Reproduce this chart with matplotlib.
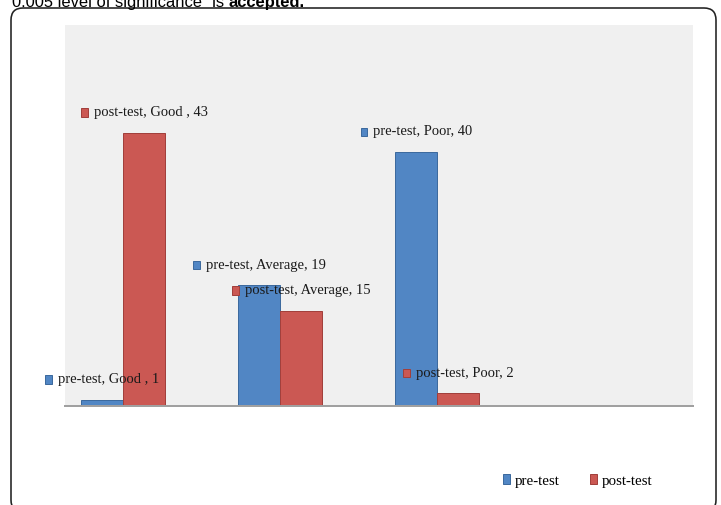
import matplotlib
matplotlib.use("Agg")
import matplotlib.pyplot as plt
from matplotlib.patches import FancyBboxPatch, Rectangle, Patch
from matplotlib.offsetbox import AnnotationBbox, HPacker, DrawingArea, TextArea
import numpy as np

# ---- data ----
categories = ["Good", "Average", "Poor"]
series_names = ["pre-test", "post-test"]
pre_test = [1, 19, 40]
post_test = [43, 15, 2]
label_cats = ["Good ", "Average", "Poor"]  # category text as shown in labels

# ---- style ----
W, H, DPI = 721, 505, 72
colors = ["#5186C4", "#CB5853"]
edges = ["#3D6A9E", "#A2403C"]
serif = ["Liberation Serif", "DejaVu Serif"]
sans = ["Liberation Sans", "DejaVu Sans"]

fig = plt.figure(figsize=(W / DPI, H / DPI), dpi=DPI)
fig.patch.set_facecolor("white")

# background overlay axes in pixel coordinates
bg = fig.add_axes([0, 0, 1, 1], zorder=0)
bg.set_xlim(0, W)
bg.set_ylim(H, 0)
bg.axis("off")
frame = FancyBboxPatch((11, 8), 705, 504, boxstyle="round,pad=0,rounding_size=12",
                       facecolor="white", edgecolor="#222222", linewidth=1.6)
bg.add_patch(frame)

# caption at top (cut off by the page edge as in the source)
t1 = bg.text(12, 6.5, "0.005 level of significance\u201d is ", fontsize=16.5,
             family=sans, va="baseline", ha="left", color="black")
fig.canvas.draw()
r = fig.canvas.get_renderer()
bb = t1.get_window_extent(r)
x_end = bb.x1
bg.text(x_end, 6.5, "accepted.", fontsize=16.5, family=sans, fontweight="bold",
        va="baseline", ha="left", color="black")

# main axes
left, right, top, bottom = 65, 693, 25, 406
ax = fig.add_axes([left / W, 1 - bottom / H, (right - left) / W, (bottom - top) / H], zorder=1)
ax.set_facecolor("#F0F0F0")
x = np.arange(len(categories))
bw = 42 / 157
vals = [pre_test, post_test]
offs = [-bw / 2, bw / 2]
for i in range(2):
    ax.bar(x + offs[i], vals[i], width=bw, color=colors[i], edgecolor=edges[i],
           linewidth=1.0, zorder=2)
ax.set_xlim(-0.37, 3.63)
ax.set_ylim(0, 60)
for s in ["top", "right", "left"]:
    ax.spines[s].set_visible(False)
ax.spines["bottom"].set_color("#A0A0A0")
ax.spines["bottom"].set_linewidth(2)
ax.set_xticks([])
ax.set_yticks([])

# data labels: small square + text, centered above bar
for i in range(2):
    for j in range(len(categories)):
        da = DrawingArea(7, 9, 0, 0)
        da.add_artist(Rectangle((0.5, 0.5), 6.5, 8.5, facecolor=colors[i], edgecolor=edges[i], linewidth=1))
        ta = TextArea(f"{series_names[i]}, {label_cats[j]}, {vals[i][j]}",
                      textprops=dict(fontsize=14.5, family=serif, color="#1a1a1a"))
        box = HPacker(children=[da, ta], align="center", pad=0, sep=6)
        ab = AnnotationBbox(box, (x[j] + offs[i], vals[i][j]), xybox=(0, 20),
                            xycoords="data", boxcoords="offset points",
                            box_alignment=(0.5, 0.5), frameon=False, pad=0,
                            annotation_clip=False, zorder=3)
        ax.add_artist(ab)

# legend
handles = [Patch(facecolor=colors[i], edgecolor=edges[i], label=series_names[i]) for i in range(2)]
fig.legend(handles=handles, loc="center left", bbox_to_anchor=(503 / W, 1 - 481 / H),
           ncol=2, frameon=False, prop=dict(family=serif, size=15),
           handlelength=0.47, handleheight=0.65, handletextpad=0.33,
           columnspacing=2.0, borderpad=0, borderaxespad=0)

fig.savefig("out.png", dpi=DPI, facecolor="white")
